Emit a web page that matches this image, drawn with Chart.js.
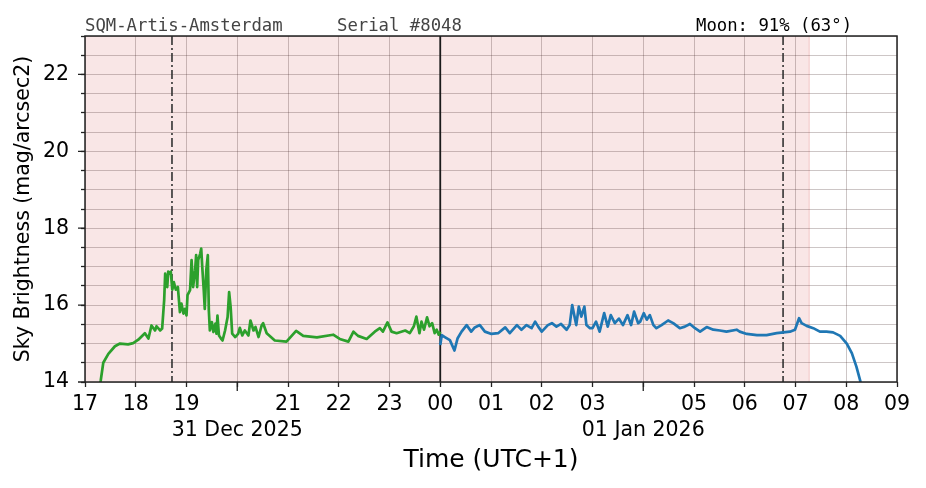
<!DOCTYPE html>
<html>
<head>
<meta charset="utf-8">
<script src="https://cdn.jsdelivr.net/npm/chart.js@4/dist/chart.umd.min.js"></script>
<style>
  html, body { margin: 0; padding: 0; background: #ffffff; }
  #wrap { position: relative; width: 926px; height: 488px; }
</style>
</head>
<body>
<div id="wrap"><canvas id="c" width="926" height="488"></canvas></div>
<script>
// ---- DATA (x = hours since 17:00 on 31 Dec 2025, local UTC+1) ----
const startHour = 17;
const xMin = 0, xMax = 16;                   // 17:00 .. 09:00
const yMin = 14, yMax = 23;
const dateTicks = { 3: '31 Dec 2025', 11: '01 Jan 2026' };   // 20:00 and 04:00
const titleLeft = 'SQM-Artis-Amsterdam';
const titleSerial = 'Serial #8048';
const titleMoon = 'Moon: 91% (63°)';
const xTitle = 'Time (UTC+1)';
const yTitle = 'Sky Brightness (mag/arcsec2)';

const nightStart = 1.714;   // dash-dot marker (~18:43)
const nightEnd = 13.755;    // dash-dot marker (~06:45)
const midnight = 7;         // 00:00
const shadeEnd = 14.27;     // end of shaded (moon-up) period ~07:16

const greenHours = [0.29,0.31,0.36,0.46,0.59,0.69,0.85,0.95,1.05,1.18,1.25,1.31,1.38,1.41,1.48,1.52,1.56,1.58,1.62,1.64,1.67,1.69,1.72,1.75,1.79,1.83,1.87,1.90,1.94,1.97,2.00,2.02,2.07,2.10,2.13,2.17,2.19,2.21,2.23,2.27,2.29,2.31,2.34,2.36,2.39,2.42,2.44,2.46,2.50,2.53,2.57,2.59,2.61,2.64,2.68,2.71,2.76,2.81,2.84,2.87,2.90,2.96,3.02,3.05,3.10,3.15,3.22,3.26,3.32,3.36,3.42,3.48,3.51,3.58,3.74,3.97,4.16,4.30,4.57,4.89,5.02,5.19,5.29,5.38,5.55,5.71,5.81,5.87,5.96,6.04,6.14,6.31,6.40,6.48,6.53,6.59,6.63,6.68,6.74,6.79,6.84,6.89,6.93,6.97,7.00];
const greenMag   = [13.9,14.04,14.5,14.73,14.93,15.0,14.98,15.01,15.1,15.27,15.13,15.47,15.34,15.45,15.34,15.39,16.13,16.82,16.47,16.87,16.82,16.87,16.4,16.6,16.4,16.47,15.82,16.04,15.78,15.9,15.73,16.26,16.39,17.17,16.47,16.91,17.3,16.47,17.17,17.34,17.47,17.0,16.39,15.9,16.91,17.3,15.86,15.34,15.56,15.3,15.52,15.26,15.73,15.21,15.13,15.08,15.34,15.69,16.34,15.95,15.26,15.17,15.26,15.41,15.21,15.34,15.21,15.6,15.34,15.43,15.17,15.47,15.53,15.27,15.08,15.05,15.33,15.2,15.16,15.23,15.12,15.05,15.31,15.2,15.12,15.31,15.4,15.31,15.55,15.31,15.27,15.34,15.27,15.45,15.7,15.27,15.57,15.36,15.68,15.45,15.53,15.27,15.36,15.23,15.31];

const blueHours = [7.00,7.03,7.09,7.19,7.28,7.34,7.42,7.52,7.61,7.68,7.78,7.88,8.01,8.14,8.28,8.37,8.51,8.60,8.70,8.80,8.87,8.93,9.00,9.12,9.20,9.29,9.38,9.49,9.55,9.60,9.64,9.68,9.73,9.78,9.84,9.88,9.95,10.00,10.07,10.14,10.23,10.30,10.36,10.44,10.52,10.60,10.69,10.76,10.82,10.90,10.94,11.01,11.07,11.13,11.20,11.26,11.36,11.49,11.59,11.72,11.82,11.92,12.02,12.12,12.25,12.38,12.51,12.64,12.84,12.90,13.04,13.24,13.43,13.63,13.76,13.89,13.99,14.07,14.12,14.22,14.35,14.48,14.61,14.74,14.88,15.01,15.11,15.20,15.28,15.31];
const blueMag   = [14.96,15.22,15.17,15.09,14.82,15.13,15.31,15.48,15.31,15.42,15.48,15.31,15.25,15.27,15.42,15.27,15.48,15.36,15.48,15.4,15.57,15.44,15.31,15.48,15.53,15.44,15.51,15.36,15.48,16.0,15.74,15.48,15.96,15.7,15.96,15.48,15.4,15.4,15.57,15.31,15.79,15.44,15.74,15.53,15.65,15.48,15.74,15.48,15.83,15.53,15.57,15.79,15.62,15.74,15.48,15.4,15.48,15.6,15.53,15.4,15.44,15.51,15.4,15.31,15.43,15.36,15.34,15.31,15.36,15.31,15.25,15.22,15.22,15.27,15.29,15.31,15.36,15.66,15.53,15.46,15.4,15.31,15.31,15.29,15.2,15.0,14.75,14.4,14.01,13.9];

const FONT = "'DejaVu Sans', 'Liberation Sans', sans-serif";
const MONO = "'DejaVu Sans Mono', 'Liberation Mono', monospace";

function pad2(n) { return (n < 10 ? '0' : '') + n; }

const overlay = {
  id: 'overlay',
  beforeDraw(chart) {
    const { ctx, chartArea: a, scales: { x } } = chart;
    ctx.save();
    ctx.fillStyle = '#ffffff';
    ctx.fillRect(0, 0, chart.width, chart.height);
    const xe = x.getPixelForValue(shadeEnd);
    ctx.fillStyle = '#f9e6e6';
    ctx.fillRect(a.left, a.top, xe - a.left, a.bottom - a.top);
    ctx.strokeStyle = 'rgba(235,170,170,0.6)';
    ctx.lineWidth = 1;
    ctx.beginPath(); ctx.moveTo(xe, a.top); ctx.lineTo(xe, a.bottom); ctx.stroke();
    ctx.restore();
  },
  beforeDatasetsDraw(chart) {
    const { ctx, chartArea: a, scales: { x } } = chart;
    ctx.save();
    ctx.strokeStyle = '#1a1a1a';
    ctx.lineWidth = 1.8;
    const xm = x.getPixelForValue(midnight);
    ctx.beginPath(); ctx.moveTo(xm, a.top); ctx.lineTo(xm, a.bottom); ctx.stroke();
    ctx.strokeStyle = '#333';
    ctx.lineWidth = 1.6;
    ctx.setLineDash([9, 3, 2, 3]);
    [nightStart, nightEnd].forEach(v => {
      const px = x.getPixelForValue(v);
      ctx.beginPath(); ctx.moveTo(px, a.top); ctx.lineTo(px, a.bottom); ctx.stroke();
    });
    ctx.restore();
  },
  afterDraw(chart) {
    const { ctx, chartArea: a, scales: { x, y } } = chart;
    ctx.save();
    // frame
    ctx.strokeStyle = '#222';
    ctx.lineWidth = 1.5;
    ctx.strokeRect(a.left, a.top, a.right - a.left, a.bottom - a.top);
    // long major ticks
    ctx.lineWidth = 1.3;
    ctx.beginPath();
    for (let v = yMin; v <= yMax; v += 2) {
      const py = y.getPixelForValue(v);
      ctx.moveTo(a.left - 7, py); ctx.lineTo(a.left, py);
    }
    Object.keys(dateTicks).forEach(k => {
      const px = x.getPixelForValue(Number(k));
      ctx.moveTo(px, a.bottom); ctx.lineTo(px, a.bottom + 9);
    });
    ctx.stroke();
    // header texts
    ctx.font = '17.3px ' + MONO;
    ctx.textBaseline = 'alphabetic';
    ctx.textAlign = 'left';
    ctx.fillStyle = '#444444';
    ctx.fillText(titleLeft, 85, 31);
    ctx.fillText(titleSerial, 337, 31);
    ctx.fillStyle = '#000000';
    ctx.fillText(titleMoon, 696, 31);
    ctx.restore();
  }
};

new Chart(document.getElementById('c'), {
  type: 'line',
  data: {
    datasets: [
      { data: greenHours.map((h, i) => ({ x: h, y: greenMag[i] })), borderColor: '#2ca02c', borderWidth: 2.7, pointRadius: 0, tension: 0, fill: false, borderJoinStyle: 'round' },
      { data: blueHours.map((h, i) => ({ x: h, y: blueMag[i] })), borderColor: '#1f77b4', borderWidth: 2.7, pointRadius: 0, tension: 0, fill: false, borderJoinStyle: 'round' }
    ]
  },
  options: {
    responsive: false,
    animation: false,
    devicePixelRatio: 1,
    layout: { padding: { top: 36, right: 29, left: 0, bottom: 0 } },
    plugins: { legend: { display: false }, tooltip: { enabled: false }, title: { display: false } },
    scales: {
      x: {
        type: 'linear', min: xMin, max: xMax,
        afterFit(s) { s.height = 106; },
        border: { display: false },
        grid: { color: 'rgba(60,30,30,0.32)', lineWidth: 0.8, tickColor: '#222', tickLength: 5, tickWidth: 1.3 },
        ticks: {
          stepSize: 1, autoSkip: false, maxRotation: 0, minRotation: 0, padding: 4,
          color: '#000', font: { family: FONT, size: 20.5, lineHeight: 1.3 },
          callback(v) {
            if (dateTicks[v] !== undefined) return ['', dateTicks[v]];
            return pad2((startHour + v) % 24);
          }
        },
        title: { display: true, text: xTitle, color: '#000', font: { family: FONT, size: 25, lineHeight: 1.2 }, padding: { top: 0, bottom: 13 } }
      },
      y: {
        min: yMin, max: yMax,
        afterFit(s) { s.width = 85; },
        border: { display: false },
        grid: { color: 'rgba(60,30,30,0.32)', lineWidth: 0.8, tickColor: '#222', tickLength: 4, tickWidth: 1.3 },
        ticks: {
          stepSize: 0.5, autoSkip: false, padding: 12,
          color: '#000', font: { family: FONT, size: 20.5 },
          callback(v) { return (v % 2 === 0) ? String(v) : ''; }
        },
        title: { display: true, text: yTitle, color: '#000', font: { family: FONT, size: 20.5, lineHeight: 1.2 }, padding: { top: 11, bottom: 0 } }
      }
    }
  },
  plugins: [overlay]
});
</script>
</body>
</html>
